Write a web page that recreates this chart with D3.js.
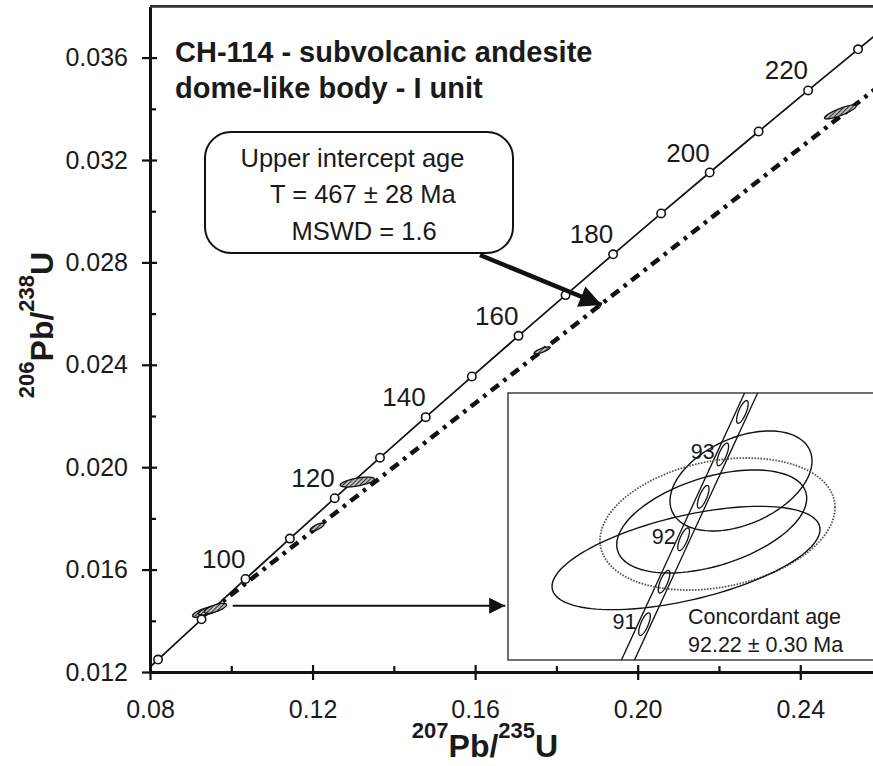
<!DOCTYPE html>
<html><head><meta charset="utf-8">
<script src="https://cdn.jsdelivr.net/npm/d3@7"></script>
<style>
body{margin:0;background:#fff}
svg{display:block}
text{font-family:"Liberation Sans",Arial,Helvetica,sans-serif;fill:#1a1a1a}
</style>
</head><body>
<svg id="c" width="873" height="766"></svg>
<script>
// ---------- data ----------
const concordiaAges = [78,80,90,100,110,120,130,140,150,160,170,180,190,200,210,220,230,240];
const concordiaX = [0.079846,0.081975,0.092683,0.103498,0.114419,0.125449,0.136588,0.147837,0.159197,0.170670,0.182256,0.193957,0.205774,0.217708,0.229759,0.241930,0.254222,0.266635]; // 207Pb/235U
const concordiaY = [0.012173,0.012487,0.014059,0.015633,0.017210,0.018789,0.020371,0.021955,0.023542,0.025131,0.026722,0.028316,0.029913,0.031511,0.033113,0.034716,0.036323,0.037932]; // 206Pb/238U
const markerAges = [80,90,100,110,120,130,140,150,160,170,180,190,200,210,220,230];
const labelAges = [100,120,140,160,180,200,220];

const discordiaX = [0.0948, 0.2585];
const discordiaY = [0.01437, 0.03478];

const ellX = [0.093161,0.094637,0.096113,0.12113,0.1310,0.17648,0.24986];
const ellY = [0.014332,0.014410,0.014488,0.017664,0.01942,0.024566,0.033875];
const ellSX = [0.0027,0.0027,0.0027,0.0017,0.0042,0.00197,0.0039];
const ellSY = [0.000195,0.000195,0.000195,0.000156,0.000195,0.000137,0.000273];
const ellRho = [0.7,0.7,0.7,0.75,0.6,0.8,0.85];

const xTicks = [0.08,0.12,0.16,0.20,0.24];
const xMinorTicks = [0.10,0.14,0.18,0.22];
const yTicks = [0.012,0.016,0.020,0.024,0.028,0.032,0.036];
const yMinorTicks = [0.014,0.018,0.022,0.026,0.030,0.034];

// inset (zoom on concordant age)
const insetConcAges = [90.5,91,91.5,92,92.5,93,93.5,94];
const insetConcX = [0.0932212,0.0937601,0.0942989,0.0948378,0.0953771,0.0959166,0.0964563,0.0969964];
const insetConcY = [0.0141378,0.0142165,0.0142952,0.0143738,0.0144525,0.0145312,0.0146099,0.0146886];
const bandHalfWidth = 0.00018;
const insetMarkerAges = [91,91.5,92,92.5,93,93.5];
const insetLabelAges = [91,92,93];
const inEllX = [0.096419,0.095612,0.095771,0.094904];
const inEllY = [0.0144819,0.0144068,0.0144021,0.0143391];
const inEllSX = [0.001956,0.002617,0.003237,0.003691];
const inEllSY = [0.0000927,0.0000955,0.0001224,0.0000958];
const inEllRho = [0.4,0.45,0.25,0.55];
const inEllDotted = [false,false,true,false];

const titleLines = ["CH-114 - subvolcanic andesite","dome-like body - I unit"];
const boxLines = ["Upper intercept age","T = 467 \u00B1 28 Ma","MSWD = 1.6"];
const concordantLines = ["Concordant age","92.22 \u00B1 0.30 Ma"];

// arrows (data coords)
const arrowLowX = [0.10035, 0.16740], arrowLowY = [0.01459, 0.01459];
const arrowBigX = [0.16118, 0.19112], arrowBigY = [0.028289, 0.026336];

// ---------- chart ----------
const svg = d3.select("#c");
const x = d3.scaleLinear().domain([0.08,0.2579]).range([150,873]);
const y = d3.scaleLinear().domain([0.012,0.038]).range([672,6.4]);
const xi = d3.scaleLinear().domain([0.09,0.10]).range([508,871]);
const yi = d3.scaleLinear().domain([0.01415,0.014645]).range([660,393]);

const defs = svg.append("defs");
defs.append("clipPath").attr("id","plotclip").append("rect")
  .attr("x",150).attr("y",y(0.038)).attr("width",723).attr("height",672-y(0.038));
defs.append("clipPath").attr("id","insetclip").append("rect")
  .attr("x",508).attr("y",393).attr("width",380).attr("height",267);
const pat = defs.append("pattern").attr("id","hatch").attr("patternUnits","userSpaceOnUse")
  .attr("width",3).attr("height",3).attr("patternTransform","rotate(45)");
pat.append("rect").attr("width",3).attr("height",3).attr("fill","#bbb");
pat.append("line").attr("x1",0).attr("y1",0).attr("x2",0).attr("y2",3).attr("stroke","#111").attr("stroke-width",1.6);
function arrowMarker(id, w, h){
  defs.append("marker").attr("id",id).attr("markerUnits","userSpaceOnUse")
    .attr("viewBox","0 0 10 10").attr("refX",10).attr("refY",5)
    .attr("markerWidth",w).attr("markerHeight",h).attr("orient","auto")
    .append("path").attr("d","M0,0L10,5L0,10z").attr("fill","#111");
}
arrowMarker("ahSmall",18,16);
arrowMarker("ahBig",26,22);

function ellipsePts(cx,cy,sx,sy,rho,sX,sY){
  const k=Math.sqrt(1-rho*rho), pts=[];
  for(let i=0;i<=120;i++){const t=i/120*2*Math.PI;
    pts.push([sX(cx+sx*Math.cos(t)), sY(cy+sy*(rho*Math.cos(t)+k*Math.sin(t)))]);}
  return pts;
}
const line = d3.line();

const plot = svg.append("g").attr("clip-path","url(#plotclip)");

// discordia
plot.append("path").attr("d", line(discordiaX.map((v,i)=>[x(v),y(discordiaY[i])])))
  .attr("fill","none").attr("stroke","#111").attr("stroke-width",4.5)
  .attr("stroke-dasharray","10,6,3.5,6");

// concordia
plot.append("path").attr("d", line(concordiaX.map((v,i)=>[x(v),y(concordiaY[i])])))
  .attr("fill","none").attr("stroke","#111").attr("stroke-width",1.7);

// data ellipses
plot.selectAll("path.ell").data(ellX).join("path").attr("class","ell")
  .attr("d",(d,i)=>line(ellipsePts(ellX[i],ellY[i],ellSX[i],ellSY[i],ellRho[i],x,y))+"Z")
  .attr("fill","url(#hatch)").attr("stroke","#111").attr("stroke-width",1.3);

// concordia markers
const idx = a => concordiaAges.indexOf(a);
plot.selectAll("circle.m").data(markerAges).join("circle").attr("class","m")
  .attr("cx",a=>x(concordiaX[idx(a)])).attr("cy",a=>y(concordiaY[idx(a)]))
  .attr("r",4.2).attr("fill","#fff").attr("stroke","#111").attr("stroke-width",1.6);

svg.selectAll("text.age").data(labelAges).join("text").attr("class","age")
  .attr("x",a=>x(concordiaX[idx(a)])).attr("y",a=>y(concordiaY[idx(a)])-11)
  .attr("text-anchor","end").attr("font-size",26).text(a=>a);

// ---------- axes ----------
function styleAxis(g){
  g.attr("font-family",null).attr("font-size",null);
  g.select(".domain").attr("stroke","#111").attr("stroke-width",2.6);
  g.selectAll(".tick line").attr("stroke","#111").attr("stroke-width",2.2);
  g.selectAll(".tick text").attr("font-size",25).attr("fill","#1a1a1a");
}
svg.append("g").attr("transform","translate(0,672)")
  .call(d3.axisBottom(x).tickValues(xTicks).tickFormat(d3.format(".2f")).tickSize(8).tickSizeOuter(0).tickPadding(20))
  .call(styleAxis);
svg.append("g").attr("transform","translate(0,672)")
  .call(d3.axisTop(x).tickValues(xTicks).tickFormat("").tickSize(7).tickSizeOuter(0))
  .call(styleAxis);
svg.append("g").attr("transform","translate(0,672)")
  .call(d3.axisTop(x).tickValues(xMinorTicks).tickFormat("").tickSize(6).tickSizeOuter(0))
  .call(styleAxis);

svg.append("g").attr("transform","translate(150,0)")
  .call(d3.axisLeft(y).tickValues(yTicks).tickFormat(d3.format(".3f")).tickSize(8).tickSizeOuter(0).tickPadding(14))
  .call(styleAxis);
svg.append("g").attr("transform","translate(150,0)")
  .call(d3.axisRight(y).tickValues(yTicks).tickFormat("").tickSize(7).tickSizeOuter(0))
  .call(styleAxis);
svg.append("g").attr("transform","translate(150,0)")
  .call(d3.axisRight(y).tickValues(yMinorTicks).tickFormat("").tickSize(6).tickSizeOuter(0))
  .call(styleAxis);

// top frame
svg.append("line").attr("x1",150).attr("x2",873).attr("y1",y(0.038)).attr("y2",y(0.038))
  .attr("stroke","#333").attr("stroke-width",2.6);

// axis titles
function isoLabel(sel, parts){
  parts.forEach((p,i)=>{
    sel.append("tspan").attr("font-size",p.sup?22:32)
      .attr("dy", i===0 ? (p.sup?-19:0) : (p.sup?-19:19)).text(p.t);
  });
}
const xl = svg.append("text").attr("x",485).attr("y",757).attr("text-anchor","middle").attr("font-weight","bold");
isoLabel(xl,[{t:"207",sup:true},{t:"Pb/"},{t:"235",sup:true},{t:"U"}]);
const yl = svg.append("text").attr("transform","translate(53,325) rotate(-90)").attr("text-anchor","middle").attr("font-weight","bold");
isoLabel(yl,[{t:"206",sup:true},{t:"Pb/"},{t:"238",sup:true},{t:"U"}]);

// title
svg.selectAll("text.title").data(titleLines).join("text").attr("class","title")
  .attr("x",175).attr("y",(d,i)=>61.7+i*36.6).attr("font-size",29).attr("font-weight","bold").text(d=>d);

// info box
svg.append("rect").attr("x",205).attr("y",132).attr("width",308).attr("height",121).attr("rx",26)
  .attr("fill","#fff").attr("stroke","#111").attr("stroke-width",2);
const boxX = [240.5,270,291.5];
svg.selectAll("text.box").data(boxLines).join("text").attr("class","box")
  .attr("x",(d,i)=>boxX[i]).attr("y",(d,i)=>166.7+i*36.7).attr("font-size",25.5).text(d=>d);

// arrows
svg.append("line").attr("x1",x(arrowBigX[0])).attr("y1",y(arrowBigY[0])).attr("x2",x(arrowBigX[1])).attr("y2",y(arrowBigY[1]))
  .attr("stroke","#111").attr("stroke-width",4.5).attr("marker-end","url(#ahBig)");
svg.append("line").attr("x1",x(arrowLowX[0])).attr("y1",y(arrowLowY[0])).attr("x2",x(arrowLowX[1])).attr("y2",y(arrowLowY[1]))
  .attr("stroke","#111").attr("stroke-width",2).attr("marker-end","url(#ahSmall)");

// ---------- inset ----------
svg.append("rect").attr("x",508).attr("y",393).attr("width",380).attr("height",267)
  .attr("fill","#fff").attr("stroke","#333").attr("stroke-width",1.4);
const inset = svg.append("g").attr("clip-path","url(#insetclip)");
[-1,1].forEach(s=>{
  inset.append("path").attr("d",line(insetConcX.map((v,i)=>[xi(v+s*bandHalfWidth),yi(insetConcY[i])])))
    .attr("fill","none").attr("stroke","#111").attr("stroke-width",1.3);
});
const iidx = a => insetConcAges.indexOf(a);
inset.selectAll("path.im").data(insetMarkerAges).join("path").attr("class","im")
  .attr("d",a=>line(ellipsePts(insetConcX[iidx(a)],insetConcY[iidx(a)],0.00016,0.000021,0.72,xi,yi))+"Z")
  .attr("fill","none").attr("stroke","#111").attr("stroke-width",1.3);
inset.selectAll("path.ie").data(inEllX).join("path").attr("class","ie")
  .attr("d",(d,i)=>line(ellipsePts(inEllX[i],inEllY[i],inEllSX[i],inEllSY[i],inEllRho[i],xi,yi))+"Z")
  .attr("fill","none")
  .attr("stroke",(d,i)=>inEllDotted[i]?"#555":"#111")
  .attr("stroke-width",(d,i)=>inEllDotted[i]?1.8:1.4)
  .attr("stroke-dasharray",(d,i)=>inEllDotted[i]?"1.6,1.4":null);
svg.selectAll("text.il").data(insetLabelAges).join("text").attr("class","il")
  .attr("x",a=>xi(insetConcX[iidx(a)])-8).attr("y",a=>yi(insetConcY[iidx(a)])+5)
  .attr("text-anchor","end").attr("font-size",21.5).text(a=>a);
svg.selectAll("text.ca").data(concordantLines).join("text").attr("class","ca")
  .attr("x",688).attr("y",(d,i)=>624+i*27.7).attr("font-size",21.5).text(d=>d);
</script>
</body></html>
